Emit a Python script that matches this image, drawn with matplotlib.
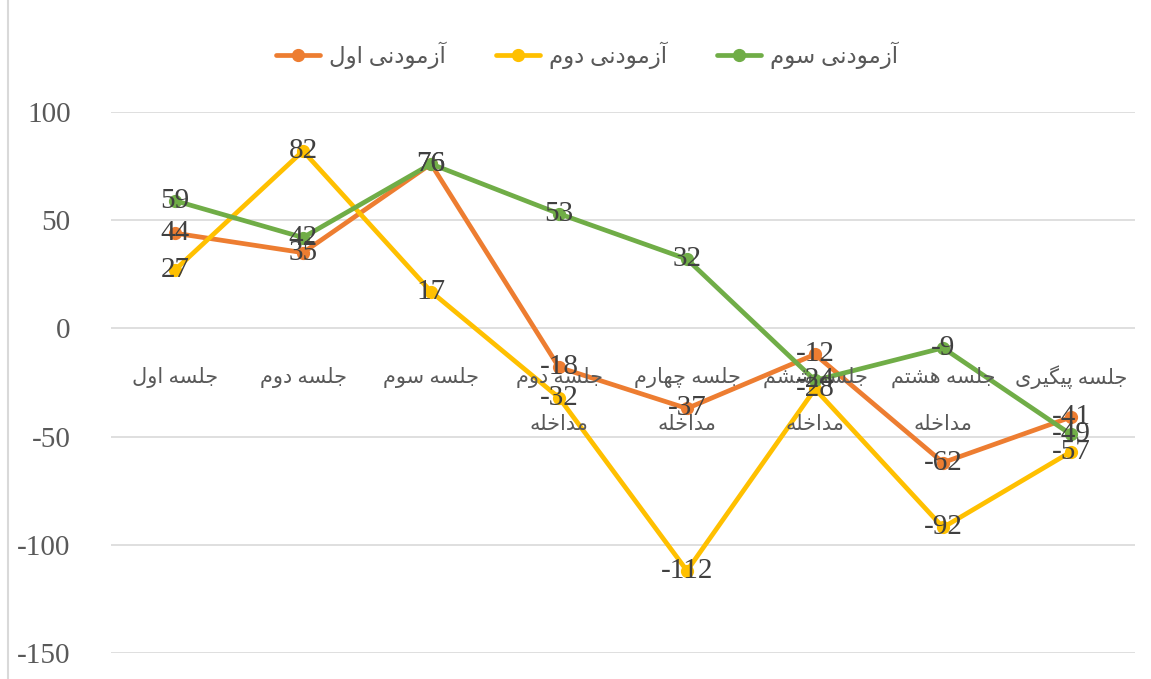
import matplotlib
matplotlib.use("Agg")
import matplotlib.pyplot as plt
from matplotlib.lines import Line2D

# ---------------- data ----------------
categories = ["جلسه اول", "جلسه دوم", "جلسه سوم", "جلسه دوم\nمداخله",
              "جلسه چهارم\nمداخله", "جلسه ششم\nمداخله", "جلسه هشتم\nمداخله",
              "جلسه پیگیری"]
series_names = ["آزمودنی اول", "آزمودنی دوم", "آزمودنی سوم"]
subject1 = [44, 35, 76, -18, -37, -12, -62, -41]
subject2 = [27, 82, 17, -32, -112, -28, -92, -57]
subject3 = [59, 42, 76, 53, 32, -24, -9, -49]
y_ticks = [100, 50, 0, -50, -100, -150]

colors = ["#ED7D31", "#FFC000", "#70AD47"]

# ---------------- simple Persian shaping ----------------
FORMS = {
    '\u0627': ('\uFE8D', '\uFE8E', None, None),
    '\u0622': ('\uFE81', '\uFE82', None, None),
    '\u0628': ('\uFE8F', '\uFE90', '\uFE91', '\uFE92'),
    '\u067E': ('\uFB56', '\uFB57', '\uFB58', '\uFB59'),
    '\u062A': ('\uFE95', '\uFE96', '\uFE97', '\uFE98'),
    '\u062C': ('\uFE9D', '\uFE9E', '\uFE9F', '\uFEA0'),
    '\u0686': ('\uFB7A', '\uFB7B', '\uFB7C', '\uFB7D'),
    '\u062E': ('\uFEA5', '\uFEA6', '\uFEA7', '\uFEA8'),
    '\u062F': ('\uFEA9', '\uFEAA', None, None),
    '\u0631': ('\uFEAD', '\uFEAE', None, None),
    '\u0632': ('\uFEAF', '\uFEB0', None, None),
    '\u0633': ('\uFEB1', '\uFEB2', '\uFEB3', '\uFEB4'),
    '\u0634': ('\uFEB5', '\uFEB6', '\uFEB7', '\uFEB8'),
    '\u06AF': ('\uFB92', '\uFB93', '\uFB94', '\uFB95'),
    '\u0644': ('\uFEDD', '\uFEDE', '\uFEDF', '\uFEE0'),
    '\u0645': ('\uFEE1', '\uFEE2', '\uFEE3', '\uFEE4'),
    '\u0646': ('\uFEE5', '\uFEE6', '\uFEE7', '\uFEE8'),
    '\u0647': ('\uFEE9', '\uFEEA', '\uFEEB', '\uFEEC'),
    '\u0648': ('\uFEED', '\uFEEE', None, None),
    '\u06CC': ('\uFBFC', '\uFBFD', '\uFBFE', '\uFBFF'),
}


def shape_line(s):
    out = []
    for i, c in enumerate(s):
        if c not in FORMS:
            out.append(c)
            continue
        prev = s[i - 1] if i > 0 else None
        nxt = s[i + 1] if i + 1 < len(s) else None
        jp = prev in FORMS and FORMS[prev][2] is not None
        jn = nxt in FORMS and FORMS[c][2] is not None
        iso, fin, ini, med = FORMS[c]
        if jp and jn:
            g = med
        elif jp:
            g = fin
        elif jn:
            g = ini
        else:
            g = iso
        out.append(g)
    return "".join(reversed(out))


def shape(s):
    return "\n".join(shape_line(line) for line in s.split("\n"))


# ---------------- figure ----------------
FAM = ["Liberation Serif", "DejaVu Sans"]
TXT = "#595959"
W, H = 1151, 679
fig = plt.figure(figsize=(W / 100, H / 100), dpi=100)
ax = fig.add_axes([111 / W, (H - 653) / H, (1135 - 111) / W, (653 - 112) / H])

x = list(range(len(categories)))
all_series = [subject1, subject2, subject3]
for vals, name, col in zip(all_series, series_names, colors):
    ax.plot(x, vals, color=col, lw=3.4, marker="o", ms=8.5, label=shape(name),
            solid_capstyle="round", zorder=3)

for vals in all_series:
    for xi, v in zip(x, vals):
        ax.text(xi, v, str(v), ha="center", va="center", fontsize=21,
                family=FAM, color="#404040", zorder=5)

ax.set_xlim(-0.5, len(categories) - 0.5)
ax.set_ylim(-150, 100)
ax.set_yticks(y_ticks)
ax.set_yticklabels([str(t) for t in y_ticks], family=FAM, fontsize=21, color=TXT)
ax.tick_params(axis="y", length=0, pad=29)
ax.set_xticks([])
for sp in ax.spines.values():
    sp.set_visible(False)
for t in y_ticks:
    ax.axhline(t, color="#D9D9D9", lw=1.2, zorder=1)

# category labels below the zero line
for xi, cat in zip(x, categories):
    for k, line in enumerate(cat.split("\n")):
        ax.annotate(shape_line(line), xy=(xi, 0), xytext=(0, -49 - 48 * k),
                    textcoords="offset pixels", ha="center", va="center",
                    fontsize=15, family=FAM, color=TXT, zorder=4)

# legend
handles, labels = ax.get_legend_handles_labels()
fig.legend(handles, labels, loc="center", bbox_to_anchor=(587 / W, 1 - 55 / H),
           ncol=3, frameon=False, prop={"family": FAM, "size": 16.5},
           labelcolor=TXT, handlelength=1.9, columnspacing=2.2, handletextpad=0.4)

# chart border at left
fig.add_artist(Line2D([8 / W, 8 / W], [0, 1], color="#D9D9D9", lw=1.5,
                      transform=fig.transFigure))

fig.savefig("out.png", dpi=100)
